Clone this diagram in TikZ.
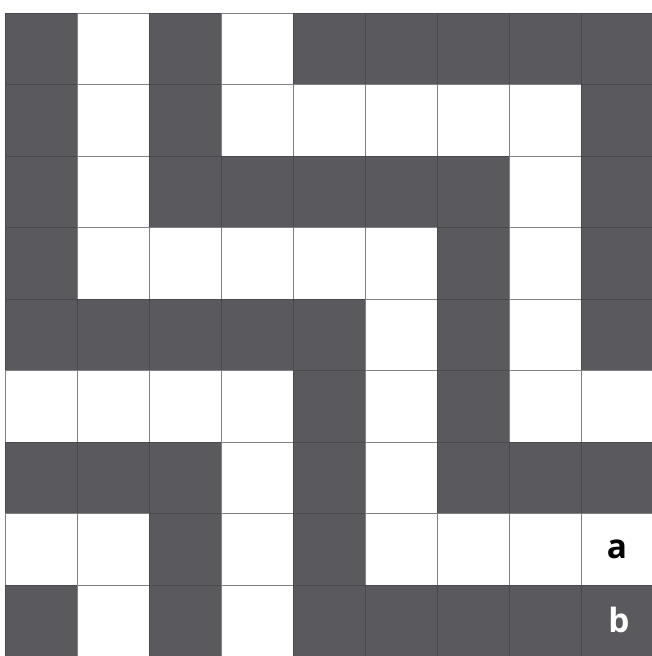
\documentclass[tikz,border=0pt]{standalone}
\usepackage{fontspec}
\setsansfont{Open Sans}
\usepackage{xcolor}
\definecolor{cDark}{HTML}{5A5A5E}
\definecolor{cLine}{HTML}{4A4A4E}
\usepackage{tikz}
\tikzset{
  cell-dark/.style={fill=cDark,draw=cLine,line width=0.4pt},
  cell-light/.style={fill=white,draw=cLine!70,line width=0.4pt},
  cell-label/.style={font=\sffamily\bfseries\fontsize{19}{19}\selectfont,inner sep=0pt},
}
\begin{document}
\begin{tikzpicture}[x=0.02cm,y=-0.02cm]
  \useasboundingbox (0,0) rectangle (652,656);
  \begin{scope}
    \clip (0,0) rectangle (652,656);
    % 1 = dark, 0 = white
    \foreach \cells [count=\row from 0] in {
        {1,0,1,0,1,1,1,1,1},
        {1,0,1,0,0,0,0,0,1},
        {1,0,1,1,1,1,1,0,1},
        {1,0,0,0,0,0,1,0,1},
        {1,1,1,1,1,0,1,0,1},
        {0,0,0,0,1,0,1,0,0},
        {1,1,1,0,1,0,1,1,1},
        {0,0,1,0,1,0,0,0,0},
        {1,0,1,0,1,1,1,1,1}} {
      \foreach \c [count=\col from 0] in \cells {
        \ifnum\c=1
          \draw[cell-dark] ({5+72*\col},{13+71.5*\row}) rectangle ++(72,71.5);
        \else
          \draw[cell-light] ({5+72*\col},{13+71.5*\row}) rectangle ++(72,71.5);
        \fi
      }
    }
  \end{scope}
  \node[cell-label,text=black] (lblA) at (617,549) {a};
  \node[cell-label,text=white] (lblB) at (619,620) {b};
\end{tikzpicture}
\end{document}
